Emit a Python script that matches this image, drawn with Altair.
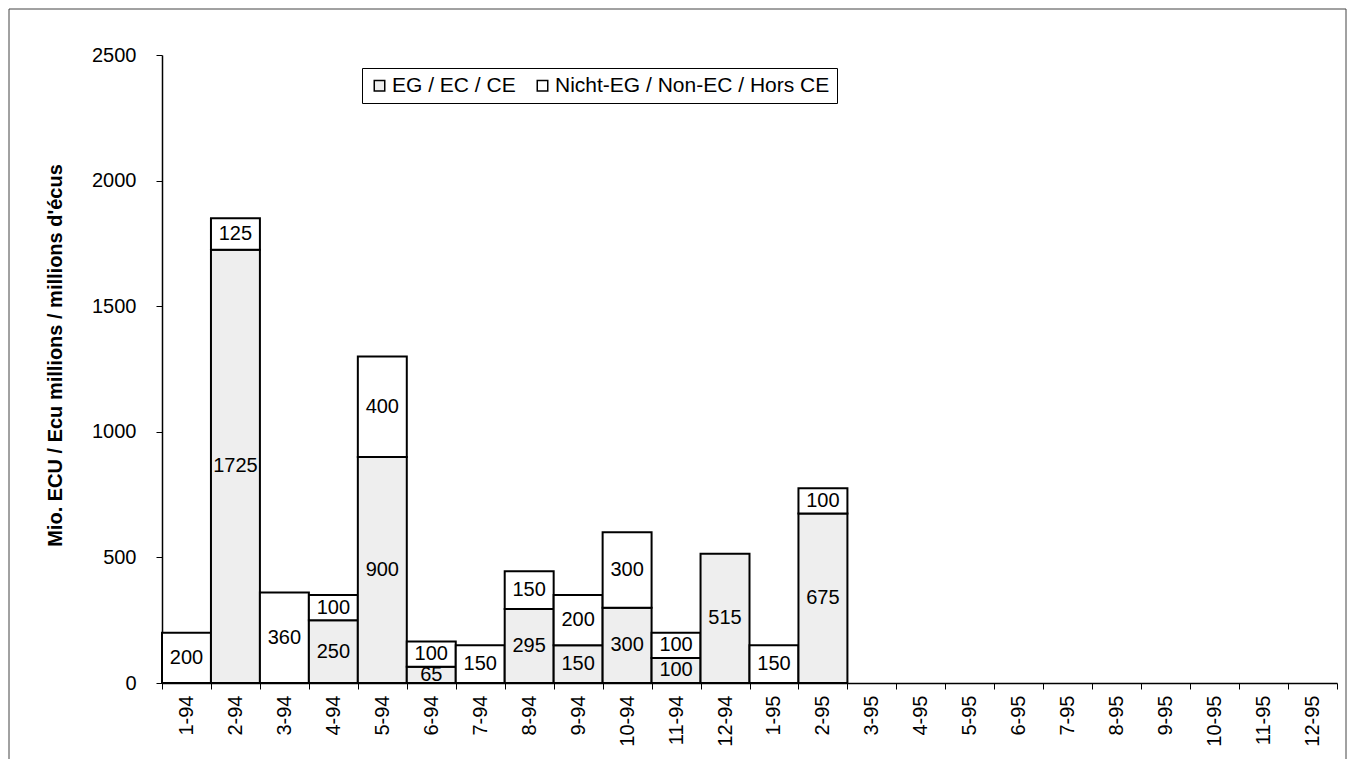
import altair as alt
import pandas as pd

months = ["1-94", "2-94", "3-94", "4-94", "5-94", "6-94", "7-94", "8-94", "9-94",
          "10-94", "11-94", "12-94", "1-95", "2-95", "3-95", "4-95", "5-95", "6-95",
          "7-95", "8-95", "9-95", "10-95", "11-95", "12-95"]
eg_values = [0, 1725, 0, 250, 900, 65, 0, 295, 150, 300, 100, 515, 0, 675,
             0, 0, 0, 0, 0, 0, 0, 0, 0, 0]
non_eg_values = [200, 125, 360, 100, 400, 100, 150, 150, 200, 300, 100, 0, 150, 100,
                 0, 0, 0, 0, 0, 0, 0, 0, 0, 0]
series = ["EG / EC / CE", "Nicht-EG / Non-EC / Hors CE"]

rows = []
for m, a, b in zip(months, eg_values, non_eg_values):
    if a > 0:
        rows.append({"m": m, "s": series[0], "v": a, "ord": 0})
    if b > 0:
        rows.append({"m": m, "s": series[1], "v": b, "ord": 1})
df = pd.DataFrame(rows)

FONT = "Liberation Sans"
FS = 20

base = alt.Chart(df).transform_stack(
    stack="v", groupby=["m"], as_=["v0", "v1"], sort=[alt.SortField("ord")]
).transform_calculate(mid="(datum.v0 + datum.v1) / 2")

xenc = alt.X("m:N", scale=alt.Scale(domain=months, paddingInner=0, paddingOuter=0),
             axis=alt.Axis(title=None, labelAngle=-90, labelAlign="right", labelBaseline="middle",
                           tickBand="extent", tickSize=6, labelPadding=6,
                           labelFontSize=FS, labelFont=FONT, labelColor="black",
                           domainColor="black", tickColor="black", domainWidth=1.5))

bars = base.mark_bar(stroke="black", strokeWidth=2).encode(
    x=xenc,
    y=alt.Y("v0:Q", scale=alt.Scale(domain=[0, 2500], nice=False),
            axis=alt.Axis(title="Mio. ECU / Ecu millions / millions d'écus",
                          values=[0, 500, 1000, 1500, 2000, 2500], grid=False, format="d",
                          tickSize=6, labelPadding=20, labelFontSize=FS, labelFont=FONT,
                          labelColor="black", domainColor="black", tickColor="black",
                          domainWidth=1.5,
                          titleFont=FONT, titleFontSize=20, titleFontWeight="bold",
                          titleColor="black", titleX=-107, titleY=300,
                          titleAlign="center", titleBaseline="middle", titleAngle=270)),
    y2="v1:Q",
    color=alt.Color("s:N", scale=alt.Scale(domain=series, range=["#eeeeee", "#ffffff"]),
                    legend=alt.Legend(title=None, orient="none", legendX=200, legendY=13,
                                      direction="horizontal", strokeColor="black",
                                      padding=7, labelFontSize=21, labelFont=FONT,
                                      labelColor="black", labelLimit=0, symbolType="square",
                                      symbolSize=110, symbolStrokeColor="black",
                                      symbolStrokeWidth=1.5, labelOffset=2,
                                      columnPadding=16)),
)

labels = base.mark_text(fontSize=FS, font=FONT, color="black", baseline="middle").encode(
    x=alt.X("m:N", scale=alt.Scale(domain=months)),
    y=alt.Y("mid:Q"),
    text=alt.Text("v:Q"),
)

frame = alt.Chart(pd.DataFrame({"k": [0]})).mark_rect(
    fill=None, stroke="#444444", strokeWidth=1
).encode(x=alt.value(-153), x2=alt.value(1184), y=alt.value(-46), y2=alt.value(720))

chart = alt.layer(frame, bars, labels).properties(
    width=1175, height=628,
    autosize=alt.AutoSizeParams(type="none"),
    padding={"left": 154, "top": 47, "right": 10, "bottom": 76},
).configure_view(stroke=None)

chart.save("out.html", embed_options={"renderer": "svg", "actions": False})
